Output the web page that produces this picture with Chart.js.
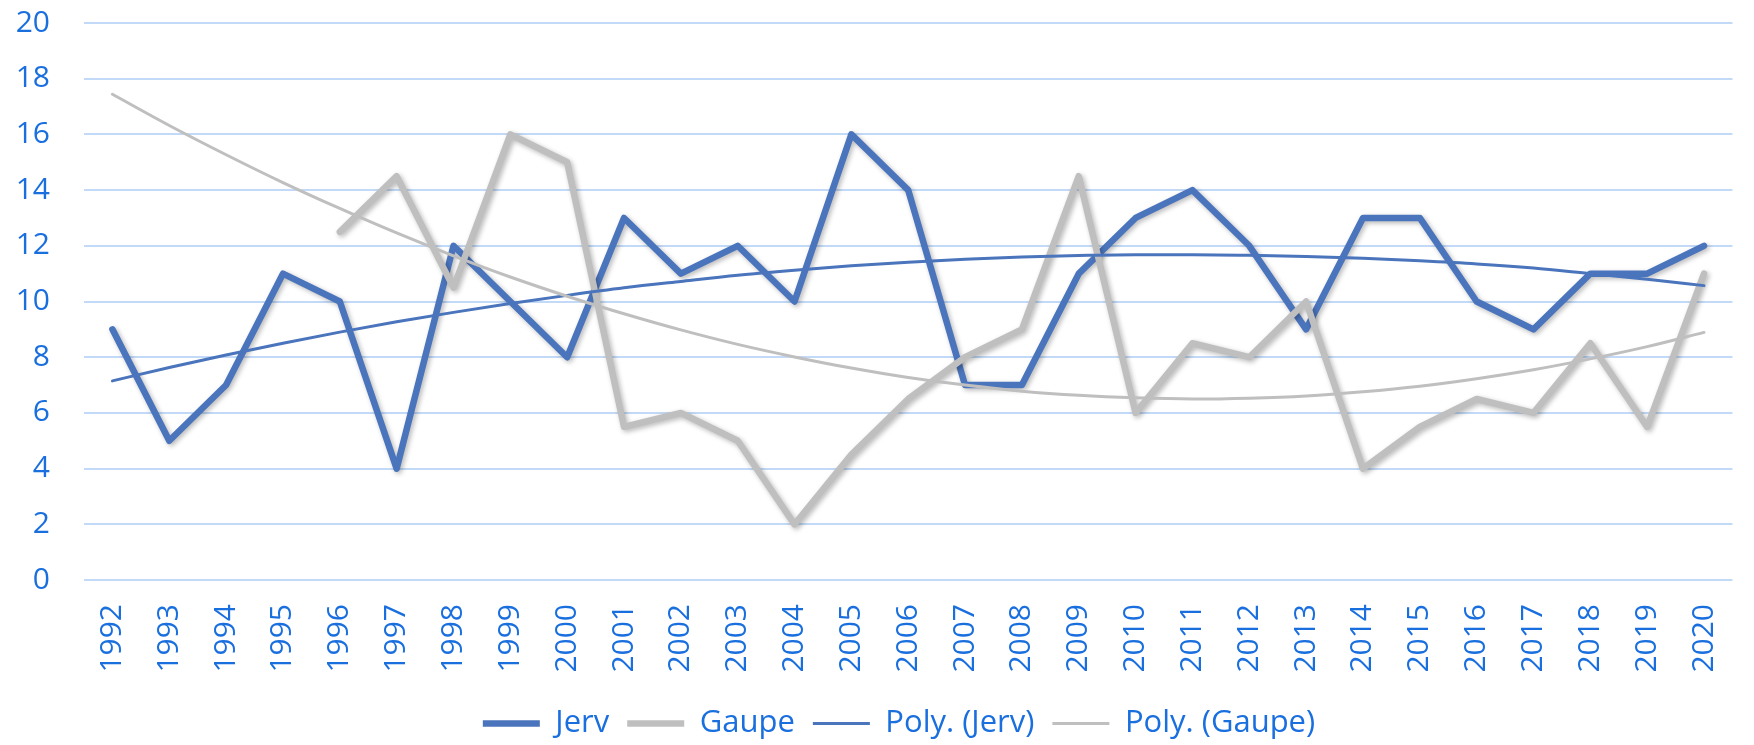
<!DOCTYPE html>
<html>
<head>
<meta charset="utf-8">
<script src="https://cdn.jsdelivr.net/npm/chart.js@4.4.1/dist/chart.umd.min.js"></script>
<style>
  html, body { margin: 0; padding: 0; background: #fff; overflow: hidden; }
  #wrap { width: 1764px; height: 745px; }
</style>
</head>
<body>
<div id="wrap"><canvas id="chart"></canvas></div>
<script>
// --- data ---
const years = ['1992', '1993', '1994', '1995', '1996', '1997', '1998', '1999', '2000', '2001',
    '2002', '2003', '2004', '2005', '2006', '2007', '2008', '2009', '2010', '2011',
    '2012', '2013', '2014', '2015', '2016', '2017', '2018', '2019', '2020'];

const jerv = [9, 5, 7, 11, 10, 4, 12, 10, 8, 13,
    11, 12, 10, 16, 14, 7, 7, 11, 13, 14,
    12, 9, 13, 13, 10, 9, 11, 11, 12];

const gaupe = [null, null, null, null, 12.5, 14.5, 10.5, 16, 15, 5.5,
    6, 5, 2, 4.5, 6.5, 8, 9, 14.5, 6, 8.5,
    8, 10, 4, 5.5, 6.5, 6, 8.5, 5.5, 11];

// trend lines (Excel "Poly." trendlines), read point by point
const polyJerv = [7.15, 7.63, 8.08, 8.5, 8.9, 9.27, 9.61, 9.93, 10.22, 10.49,
    10.72, 10.94, 11.12, 11.28, 11.41, 11.52, 11.6, 11.65, 11.68, 11.68,
    11.66, 11.62, 11.55, 11.46, 11.35, 11.2, 11.0, 10.8, 10.57];

const polyGaupe = [17.44, 16.32, 15.27, 14.27, 13.34, 12.46, 11.64, 10.88, 10.19, 9.56,
    8.98, 8.46, 8.01, 7.61, 7.27, 7.0, 6.78, 6.63, 6.54, 6.5,
    6.53, 6.61, 6.76, 6.96, 7.23, 7.55, 7.94, 8.38, 8.89];

const yTicks = [0, 2, 4, 6, 8, 10, 12, 14, 16, 18, 20];

const BLUE = '#4a74bc';
const GREY = '#bfbfbf';
const TEXT = '#1a6fdf';
const GRID = '#c2daf7';
const FONT = "'Open Sans', 'DejaVu Sans', sans-serif";

// soft drop shadow under the two thick lines, like the Excel original
const shadowPlugin = {
    id: 'lineShadow',
    beforeDatasetDraw(chart, args) {
        if (args.index > 1) return;
        const c = chart.ctx;
        c.save();
        c.shadowColor = 'rgba(0, 0, 0, 0.28)';
        c.shadowBlur = 5;
        c.shadowOffsetX = 2;
        c.shadowOffsetY = 2;
    },
    afterDatasetDraw(chart, args) {
        if (args.index > 1) return;
        chart.ctx.restore();
    }
};

// the original legend sits a bit right of the page centre (chart is cropped on the right)
const legendNudge = {
    id: 'legendNudge',
    afterLayout(chart) {
        chart.legend.left += 17;
        chart.legend.right += 17;
    }
};

const ctx = document.getElementById('chart').getContext('2d');
const chart = new Chart(ctx, {
    type: 'line',
    data: {
        labels: years,
        datasets: [
            {
                label: 'Jerv',
                data: jerv,
                borderColor: BLUE,
                backgroundColor: BLUE,
                borderWidth: 6.5,
                borderCapStyle: 'round',
                borderJoinStyle: 'round',
                pointRadius: 0,
                tension: 0,
                order: 4
            },
            {
                label: 'Gaupe',
                data: gaupe,
                borderColor: GREY,
                backgroundColor: GREY,
                borderWidth: 6.5,
                borderCapStyle: 'round',
                borderJoinStyle: 'round',
                pointRadius: 0,
                tension: 0,
                order: 3
            },
            {
                label: 'Poly. (Jerv)',
                data: polyJerv,
                borderColor: BLUE,
                backgroundColor: BLUE,
                borderWidth: 3,
                borderCapStyle: 'round',
                pointRadius: 0,
                cubicInterpolationMode: 'monotone',
                order: 2
            },
            {
                label: 'Poly. (Gaupe)',
                data: polyGaupe,
                borderColor: GREY,
                backgroundColor: GREY,
                borderWidth: 3,
                borderCapStyle: 'round',
                pointRadius: 0,
                cubicInterpolationMode: 'monotone',
                order: 1
            }
        ]
    },
    options: {
        responsive: true,
        maintainAspectRatio: false,
        animation: false,
        layout: { padding: { top: 23, bottom: -4, left: 0, right: 0 } },
        plugins: {
            tooltip: { enabled: false },
            legend: {
                position: 'bottom',
                labels: {
                    usePointStyle: true,
                    pointStyle: 'line',
                    pointStyleWidth: 57,
                    padding: 18,
                    color: TEXT,
                    font: { family: FONT, size: 31 },
                    sort: (a, b) => a.datasetIndex - b.datasetIndex
                }
            }
        },
        scales: {
            x: {
                offset: true,
                afterFit: (scale) => { scale.height = 110; },
                grid: { display: false, drawTicks: false },
                border: { display: false },
                ticks: {
                    color: TEXT,
                    font: { family: FONT, size: 30 },
                    minRotation: 90,
                    maxRotation: 90,
                    autoSkip: false,
                    padding: 24
                }
            },
            y: {
                min: 0,
                max: 20,
                afterBuildTicks: (scale) => { scale.ticks = yTicks.map(v => ({ value: v })); },
                afterFit: (scale) => {
                    scale.width = 84;
                    scale.paddingTop = 0;
                    scale.paddingBottom = 0;
                },
                grid: { color: GRID, lineWidth: 2, drawTicks: false },
                border: { display: false },
                ticks: {
                    color: TEXT,
                    font: { family: FONT, size: 30 },
                    padding: 34
                }
            }
        }
    },
    plugins: [shadowPlugin, legendNudge]
});
</script>
</body>
</html>
